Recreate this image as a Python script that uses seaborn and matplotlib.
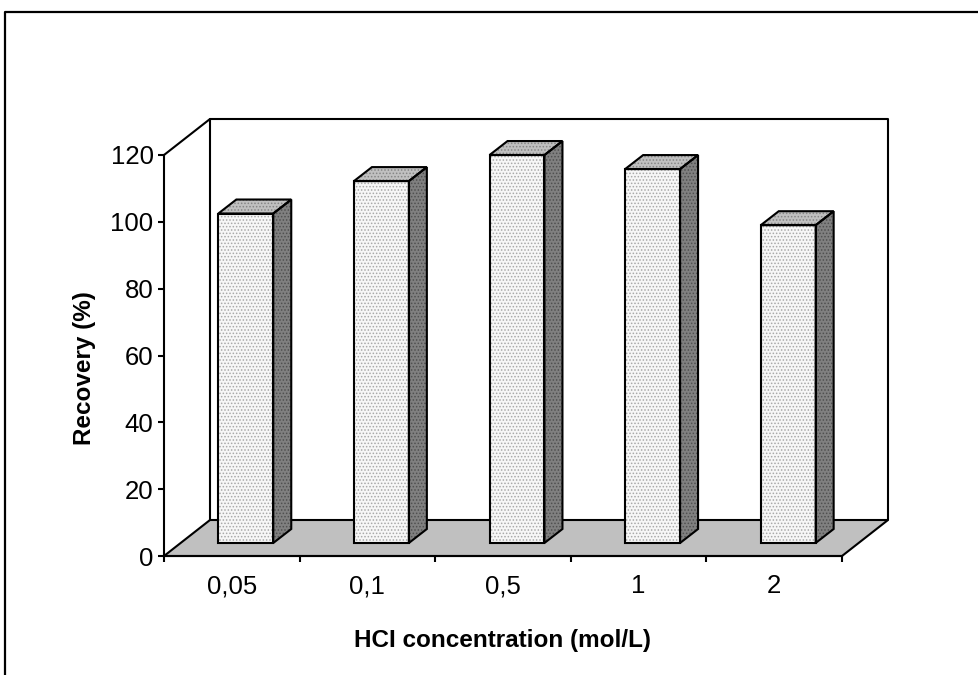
import matplotlib
matplotlib.use("Agg")
import matplotlib.pyplot as plt
import seaborn as sns
from matplotlib.patches import Polygon, Rectangle
from matplotlib.lines import Line2D

# ---------------- data ----------------
categories = ["0,05", "0,1", "0,5", "1", "2"]
recovery = [98.6, 108.3, 116.1, 111.9, 95.1]
y_ticks = [0, 20, 40, 60, 80, 100, 120]
x_title = "HCI concentration (mol/L)"
y_title = "Recovery (%)"

# ---------------- style ----------------
sns.set_theme(style="white")
plt.rcParams["font.family"] = ["Liberation Sans", "DejaVu Sans"]
plt.rcParams["hatch.linewidth"] = 0.7
plt.rcParams["text.color"] = "black"
plt.rcParams["xtick.color"] = "black"
plt.rcParams["ytick.color"] = "black"
plt.rcParams["axes.labelcolor"] = "black"

W, H = 979, 675
fig = plt.figure(figsize=(W / 100, H / 100), dpi=100)
fig.patch.set_facecolor("white")

# front plane of the 3-D box in pixels
L, R, B, T = 164, 842, 556, 155
ax = fig.add_axes([L / W, 1 - B / H, (R - L) / W, (B - T) / H])
ax.set_facecolor("none")

# seaborn draws the bars (front faces)
sns.barplot(x=categories, y=recovery, order=categories, width=0.405,
            color="#f7f7f7", ax=ax, zorder=3)
ax.set_xlim(-0.5, len(categories) - 0.5)
ax.set_ylim(0, 120)

n = len(categories)
sx = (R - L) / n          # px per category
sy = (B - T) / 120.0      # px per value unit


def off(px, py):
    return px / sx, py / sy


bdx, bdy = off(46, 36)    # depth of the whole box
fdx, fdy = off(14, 13)    # bar front plane
ddx, ddy = off(18, 14)    # bar depth

LW = 1.5

# floor
floor = Polygon([(-0.5, 0), (n - 0.5, 0), (n - 0.5 + bdx, bdy), (-0.5 + bdx, bdy)],
                closed=True, fc="#c0c0c0", ec="black", lw=LW, zorder=1, clip_on=False)
ax.add_patch(floor)

# back wall + top-left diagonal
ax.add_line(Line2D([-0.5 + bdx, -0.5 + bdx, n - 0.5 + bdx, n - 0.5 + bdx],
                   [bdy, 120 + bdy, 120 + bdy, bdy], color="black", lw=LW,
                   zorder=1.5, clip_on=False))
ax.add_line(Line2D([-0.5, -0.5 + bdx], [120, 120 + bdy], color="black", lw=LW,
                   zorder=1.5, clip_on=False))

# 3-D bars
for p in list(ax.patches):
    if not isinstance(p, Rectangle):
        continue
    x0 = p.get_x() + fdx
    w = p.get_width()
    h = p.get_height()
    y0 = fdy
    x1 = x0 + w
    top = y0 + h
    p.set_x(x0)
    p.set_y(y0)
    p.set_facecolor("#f7f7f7")
    p.set_edgecolor("#a8a8a8")
    p.set_hatch(".....")
    p.set_linewidth(0)
    p.set_zorder(3)
    p.set_clip_on(False)
    ax.add_patch(Rectangle((x0, y0), w, h, fill=False, ec="black", lw=LW,
                           zorder=4, clip_on=False))
    topv = [(x0, top), (x1, top), (x1 + ddx, top + ddy), (x0 + ddx, top + ddy)]
    side = [(x1, y0), (x1 + ddx, y0 + ddy), (x1 + ddx, top + ddy), (x1, top)]
    ax.add_patch(Polygon(topv, closed=True, fc="#c0c0c0", ec="#858585", lw=0,
                         hatch=".....", zorder=3, clip_on=False))
    ax.add_patch(Polygon(side, closed=True, fc="#808080", ec="#505050", lw=0,
                         hatch=".....", zorder=3, clip_on=False))
    ax.add_patch(Polygon(topv, closed=True, fill=False, ec="black", lw=LW,
                         zorder=4, clip_on=False))
    ax.add_patch(Polygon(side, closed=True, fill=False, ec="black", lw=LW,
                         zorder=4, clip_on=False))

# spines
for s in ["top", "right"]:
    ax.spines[s].set_visible(False)
for s in ["left", "bottom"]:
    ax.spines[s].set_color("black")
    ax.spines[s].set_linewidth(LW)
    ax.spines[s].set_zorder(5)

# y ticks
ax.set_yticks(y_ticks)
ax.set_yticklabels([str(v) for v in y_ticks])
ax.tick_params(axis="y", which="major", direction="out", length=4.5, width=LW,
               color="black", labelcolor="black", labelsize=18.5, pad=3, left=True)

# x ticks: marks at boundaries, labels at centres
ax.set_xticks([i - 0.5 for i in range(n + 1)])
ax.set_xticklabels([""] * (n + 1))
ax.set_xticks(list(range(n)), minor=True)
ax.set_xticklabels(categories, minor=True)
ax.tick_params(axis="x", which="major", direction="out", length=4.5, width=LW,
               color="black", bottom=True)
ax.tick_params(axis="x", which="minor", length=0, labelsize=18.5, pad=13,
               labelcolor="black")
ax.set_xlabel("")
ax.set_ylabel("")

# axis titles
fig.text(503 / W, 1 - 640 / H, x_title, ha="center", va="center",
         fontsize=17.5, fontweight="bold", color="black")
fig.text(84 / W, 1 - 368 / H, y_title, ha="center", va="center",
         rotation=90, fontsize=17.5, fontweight="bold", color="black")

# outer chart frame (left and top edges visible)
fig.add_artist(Line2D([5 / W, 5 / W, 1.0], [0.0, 1 - 12 / H, 1 - 12 / H],
                      transform=fig.transFigure, color="black", lw=1.6))

fig.savefig("out.png", dpi=100, facecolor="white")
